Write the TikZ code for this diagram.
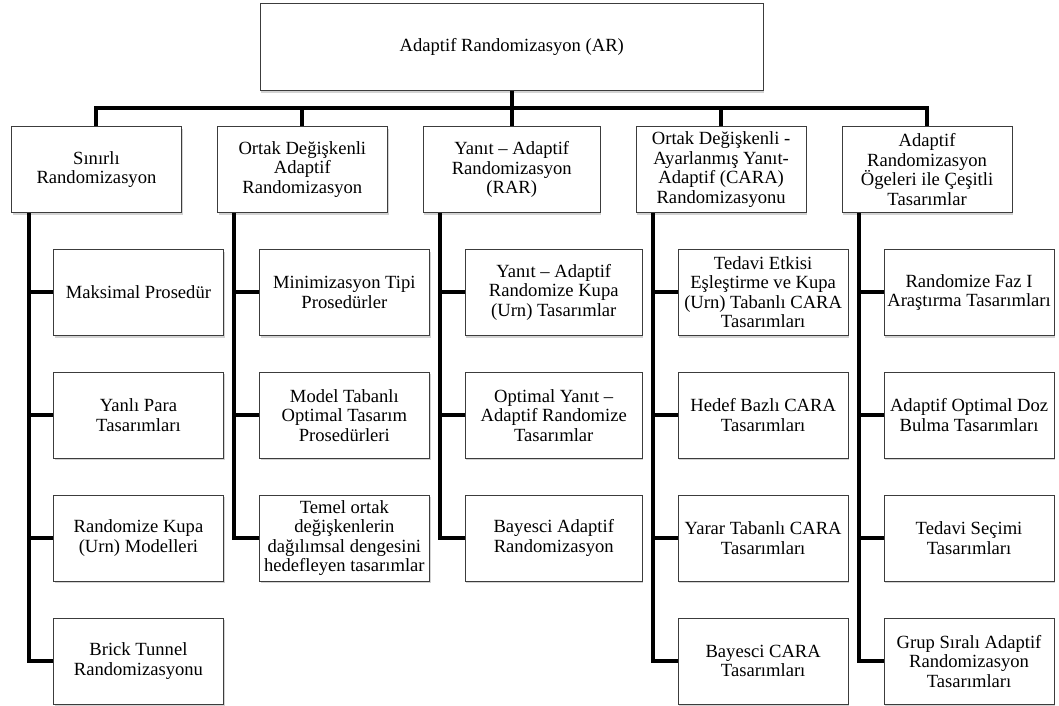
\documentclass[tikz,border=0pt]{standalone}
\usepackage{fontspec}
\setmainfont{Liberation Serif}
\usepackage{xcolor}
\usepackage{tikz}
\usetikzlibrary{positioning,shadows}
\definecolor{Edge}{HTML}{3C3C3C}

\begin{document}
\begin{tikzpicture}[
    x=1pt,y=1pt,
    node distance=36pt and 35pt,
    box/.style={draw=Edge,line width=0.9pt,fill=white,align=center,
      minimum width=170pt,minimum height=86pt,inner sep=1.5pt,
      font=\fontsize{18.6}{19.5}\selectfont,
      drop shadow={shadow xshift=1.2pt,shadow yshift=-2.2pt,opacity=0.35}},
    wide/.style={box,minimum width=177pt},
    conn/.style={line width=4pt,draw=black}
]
\useasboundingbox (0,0) rectangle (1059,-706);
% second level
\node[box,anchor=north west] (s1) at (11,-126) {Sınırlı\\Randomizasyon};
\node[box,right=of s1] (s2) {Ortak Değişkenli\\Adaptif\\Randomizasyon};
\node[wide,right=of s2] (s3) {Yanıt – Adaptif\\Randomizasyon\\(RAR)};
\node[box,right=of s3] (s4) {Ortak Değişkenli -\\Ayarlanmış Yanıt-\\Adaptif (CARA)\\Randomizasyonu};
\node[box,right=of s4] (s5) {Adaptif\\Randomizasyon\\Ögeleri ile Çeşitli\\Tasarımlar};
% root
\node[box,minimum width=503pt,minimum height=87pt,above=35pt of s3] (root) {Adaptif Randomizasyon (AR)};
% first column
\node[box,below=of s1,xshift=42pt] (a1) {Maksimal Prosedür};
\node[box,below=of a1] (a2) {Yanlı Para\\Tasarımları};
\node[box,below=of a2] (a3) {Randomize Kupa\\(Urn) Modelleri};
\node[box,below=of a3] (a4) {Brick Tunnel\\Randomizasyonu};
% second column
\node[box,below=of s2,xshift=42pt] (b1) {Minimizasyon Tipi\\Prosedürler};
\node[box,below=of b1] (b2) {Model Tabanlı\\Optimal Tasarım\\Prosedürleri};
\node[box,below=of b2] (b3) {Temel ortak\\değişkenlerin\\dağılımsal dengesini\\hedefleyen tasarımlar};
% third column
\node[wide,below=of s3,xshift=42pt] (c1) {Yanıt – Adaptif\\Randomize Kupa\\(Urn) Tasarımlar};
\node[wide,below=of c1] (c2) {Optimal Yanıt –\\Adaptif Randomize\\Tasarımlar};
\node[wide,below=of c2] (c3) {Bayesci Adaptif\\Randomizasyon};
% fourth column
\node[box,below=of s4,xshift=42pt] (d1) {Tedavi Etkisi\\Eşleştirme ve Kupa\\(Urn) Tabanlı CARA\\Tasarımları};
\node[box,below=of d1] (d2) {Hedef Bazlı CARA\\Tasarımları};
\node[box,below=of d2] (d3) {Yarar Tabanlı CARA\\Tasarımları};
\node[box,below=of d3] (d4) {Bayesci CARA\\Tasarımları};
% fifth column
\node[box,below=of s5,xshift=42pt] (e1) {Randomize Faz I\\Araştırma Tasarımları};
\node[box,below=of e1] (e2) {Adaptif Optimal Doz\\Bulma Tasarımları};
\node[box,below=of e2] (e3) {Tedavi Seçimi\\Tasarımları};
\node[box,below=of e3] (e4) {Grup Sıralı Adaptif\\Randomizasyon\\Tasarımları};
% bus and trunks
\coordinate[above=17.5pt of s3.north] (bus);
\coordinate[right=17.5pt of s1.south west] (t1);
\coordinate[right=17.5pt of s2.south west] (t2);
\coordinate[right=17.5pt of s3.south west] (t3);
\coordinate[right=17.5pt of s4.south west] (t4);
\coordinate[right=17.5pt of s5.south west] (t5);
\draw[conn] (root.south)--(s3.north);
\draw[conn] (s1.north)|-(bus)-|(s5.north);
\draw[conn] (s2.north)|-(bus);
\draw[conn] (s4.north)|-(bus);
\draw[conn] (t1)|-(a1.west) (t1)|-(a2.west) (t1)|-(a3.west) (t1)|-(a4.west);
\draw[conn] (t2)|-(b1.west) (t2)|-(b2.west) (t2)|-(b3.west);
\draw[conn] (t3)|-(c1.west) (t3)|-(c2.west) (t3)|-(c3.west);
\draw[conn] (t4)|-(d1.west) (t4)|-(d2.west) (t4)|-(d3.west) (t4)|-(d4.west);
\draw[conn] (t5)|-(e1.west) (t5)|-(e2.west) (t5)|-(e3.west) (t5)|-(e4.west);
\end{tikzpicture}
\end{document}
